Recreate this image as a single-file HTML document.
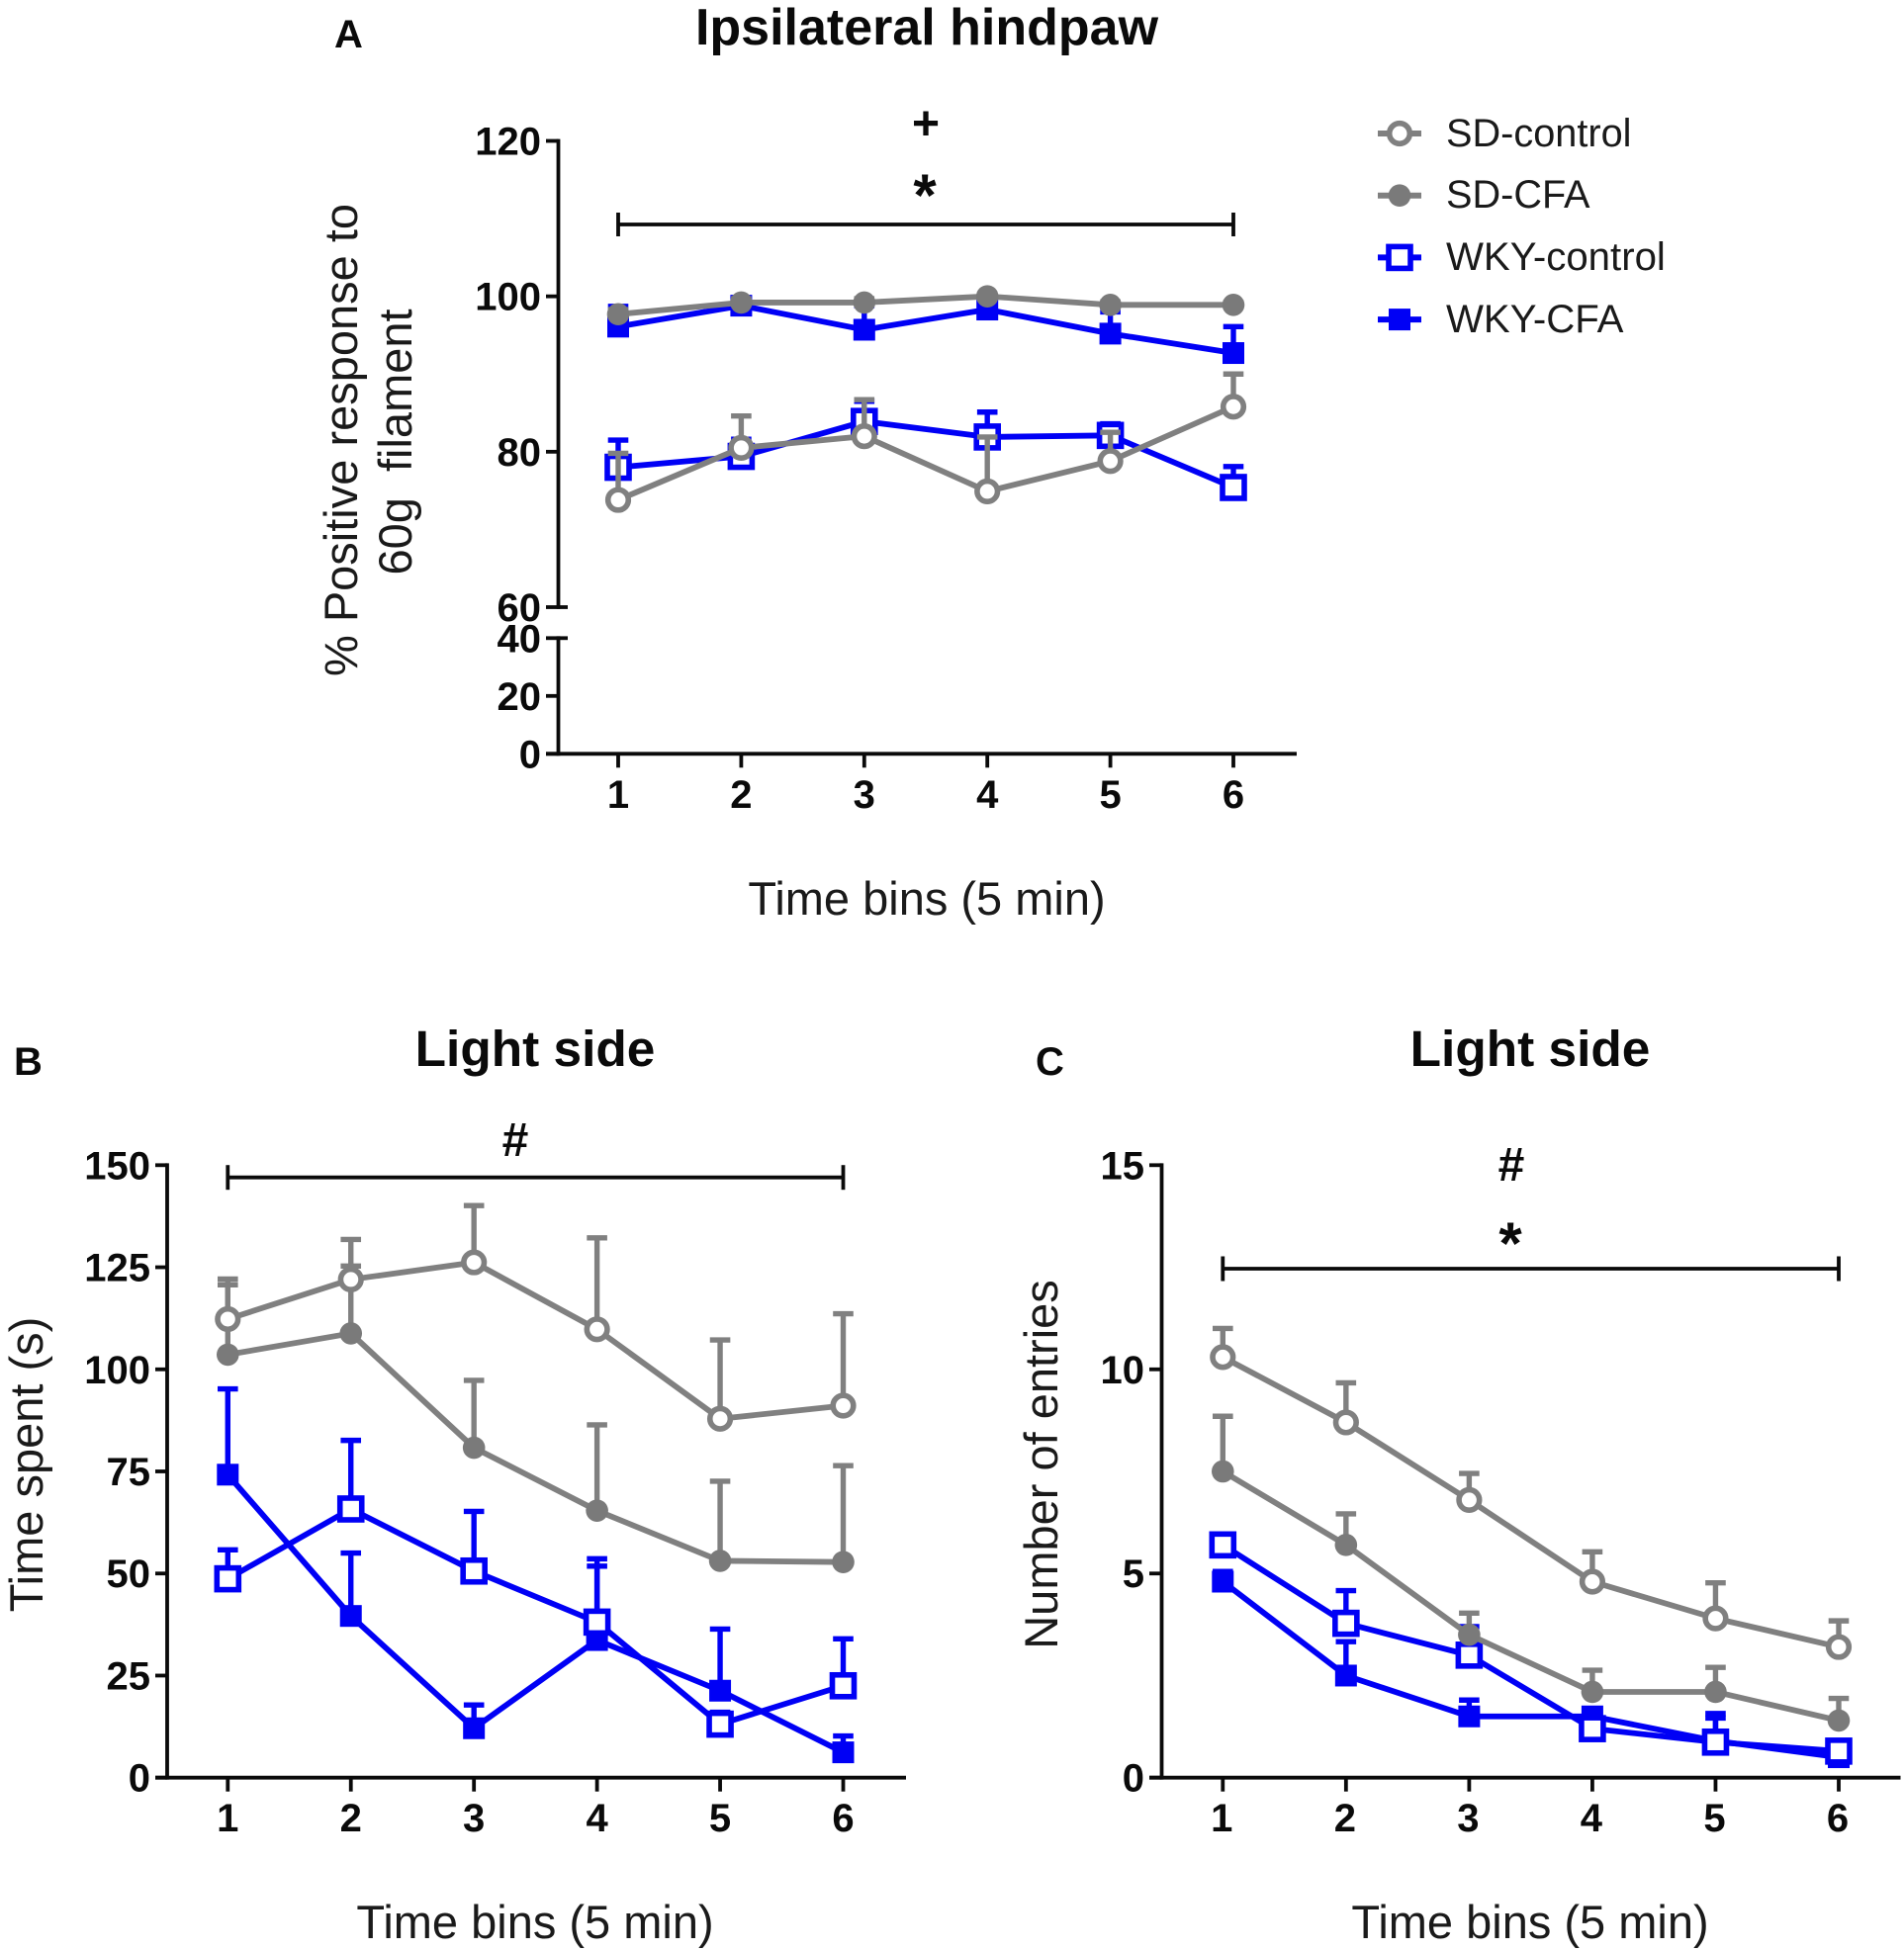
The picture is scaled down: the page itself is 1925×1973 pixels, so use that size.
<!DOCTYPE html>
<html lang="en">
<head>
<meta charset="utf-8">
<title>Ipsilateral hindpaw and light side results</title>
<style>
html,body{margin:0;padding:0;background:#fff;}
svg{display:block;}
text{font-family:"Liberation Sans",Arial,sans-serif;fill:#0a0a0a;}
.title{font-size:52px;font-weight:bold;text-anchor:middle;}
.title2{font-size:51.4px;font-weight:bold;text-anchor:middle;}
.panel{font-size:40px;font-weight:bold;}
.axt{font-size:47px;text-anchor:middle;fill:#1a1a1a;}
.leg{font-size:39.7px;fill:#1a1a1a;}
.legw{font-size:40.2px;fill:#1a1a1a;}
.sym{font-size:48px;font-weight:bold;text-anchor:middle;}
.star{font-size:60px;font-weight:bold;text-anchor:middle;}
</style>
</head>
<body>
<svg id="fig" xmlns="http://www.w3.org/2000/svg" width="1925" height="1973" viewBox="0 0 1925 1973">
  <rect x="0" y="0" width="1925" height="1973" fill="#fff"/>

  <text class="panel" x="338" y="48">A</text>
  <text class="title" x="937" y="45">Ipsilateral hindpaw</text>
  <text class="axt" transform="translate(361,445) rotate(-90)">% Positive response to</text>
  <text class="axt" transform="translate(416,447) rotate(-90)" xml:space="preserve">60g  filament</text>
  <text class="axt" x="937" y="925">Time bins (5 min)</text>
  <text class="sym" x="936" y="141">+</text>
  <text class="star" x="935" y="218">*</text>

  <text class="panel" x="14" y="1087">B</text>
  <text class="title2" x="541" y="1078">Light side</text>
  <text class="axt" transform="translate(43,1481) rotate(-90)">Time spent (s)</text>
  <text class="axt" x="541" y="1960">Time bins (5 min)</text>
  <text class="sym" x="521" y="1169">#</text>

  <text class="panel" x="1047" y="1087">C</text>
  <text class="title2" x="1547" y="1078">Light side</text>
  <text class="axt" transform="translate(1069,1481) rotate(-90)">Number of entries</text>
  <text class="axt" x="1547" y="1960">Time bins (5 min)</text>
  <text class="sym" x="1528" y="1194">#</text>
  <text class="star" x="1527" y="1278">*</text>

  <g>
    <text class="leg" x="1462" y="148">SD-control</text>
    <text class="leg" x="1462" y="210">SD-CFA</text>
    <text class="legw" x="1462" y="273">WKY-control</text>
    <text class="legw" x="1462" y="336">WKY-CFA</text>
  </g>
</svg>
<script>
// Shared categories
const bins = [1, 2, 3, 4, 5, 6];

// Panel A values (percent)
const aTicksUpper = [60, 80, 100, 120];
const aTicksLower = [0, 20, 40];
const aSdControl = [73.8, 80.5, 82.0, 74.9, 78.8, 85.8];
const aSdControlTop = [79.8, 84.6, 86.7, 81.9, 82.5, 90.0];
const aSdCfa = [97.7, 99.2, 99.2, 100, 98.9, 98.9];
const aSdCfaTop = [98.3, 99.7, 99.7, 100.3, 99.3, 99.2];
const aWkyControl = [78.0, 79.4, 83.9, 81.9, 82.1, 75.4];
const aWkyControlTop = [81.5, 81.6, 86.5, 85.1, 83.6, 78.1];
const aWkyCfa = [96.1, 98.8, 95.7, 98.3, 95.2, 92.7];
const aWkyCfaTop = [98.7, 99.8, 98.8, 99.2, 98.0, 96.1];

// Panel B values (seconds)
const bTicks = [0, 25, 50, 75, 100, 125, 150];
const bSdControl = [112.3, 122.0, 126.2, 109.8, 87.9, 91.1];
const bSdControlTop = [120.7, 131.8, 140.1, 132.2, 107.2, 113.6];
const bSdCfa = [103.6, 108.8, 80.8, 65.4, 53.1, 52.8];
const bSdCfaTop = [122.1, 125.3, 97.3, 86.4, 72.6, 76.4];
const bWkyControl = [48.7, 65.8, 50.6, 38.1, 13.1, 22.5];
const bWkyControlTop = [55.8, 82.6, 65.2, 51.8, 16.0, 34.0];
const bWkyCfa = [74.2, 39.6, 12.1, 33.7, 21.3, 6.2];
const bWkyCfaTop = [95.2, 55.0, 17.8, 53.6, 36.4, 10.2];

// Panel C values (count)
const cTicks = [0, 5, 10, 15];
const cSdControl = [10.3, 8.7, 6.8, 4.8, 3.9, 3.2];
const cSdControlTop = [11.0, 9.67, 7.45, 5.53, 4.77, 3.84];
const cSdCfa = [7.5, 5.7, 3.5, 2.1, 2.1, 1.4];
const cSdCfaTop = [8.85, 6.46, 4.03, 2.63, 2.7, 1.94];
const cWkyControl = [5.7, 3.78, 3.0, 1.2, 0.87, 0.65];
const cWkyControlTop = [5.95, 4.58, 3.7, 1.6, 1.46, 0.8];
const cWkyCfa = [4.8, 2.5, 1.5, 1.5, 0.9, 0.5];
const cWkyCfaTop = [5.05, 3.33, 1.9, 1.68, 1.57, 0.8];

const GRAY = '#808080', DARKGRAY = '#7a7a7a', BLUE = '#0000f5', INK = '#0a0a0a';
const NS = 'http://www.w3.org/2000/svg';
const fig = document.getElementById('fig');

function mk(parent, tag, attrs) {
  const e = document.createElementNS(NS, tag);
  for (const k in attrs) e.setAttribute(k, attrs[k]);
  parent.appendChild(e);
  return e;
}
function segment(parent, x1, y1, x2, y2, color, w) {
  const l = mk(parent, 'line', { x1: x1, y1: y1, x2: x2, y2: y2, stroke: color, 'stroke-width': w });
  
  
  return l;
}
function label(parent, x, y, str, anchor) {
  const t = mk(parent, 'text', { x: x, y: y, 'font-size': 40, 'font-weight': 'bold', 'text-anchor': anchor });
  
  
  t.textContent = str;
  return t;
}
function marker(parent, kind, x, y) {
  let m;
  if (kind === 'open-circle') {
    m = mk(parent, 'circle', { cx: x, cy: y, r: 10.3, fill: '#fff', stroke: GRAY, 'stroke-width': 5.6 });
  } else if (kind === 'filled-circle') {
    m = mk(parent, 'circle', { cx: x, cy: y, r: 11.3, fill: DARKGRAY });
  } else if (kind === 'open-square') {
    m = mk(parent, 'rect', { x: x - 11, y: y - 11, width: 22, height: 22, fill: '#fff', stroke: BLUE, 'stroke-width': 5.6 });
  } else {
    m = mk(parent, 'rect', { x: x - 11, y: y - 11, width: 22, height: 22, fill: BLUE });
  }
  
  
  return m;
}
function drawSeries(parent, name, kind, color, values, tops, xf, yf) {
  const g = mk(parent, 'g', {});
  
  
  bins.forEach(function (b, i) {
    const x = xf(b);
    segment(g, x, yf(values[i]), x, yf(tops[i]), color, 5.4);
    segment(g, x - 10.3, yf(tops[i]), x + 10.3, yf(tops[i]), color, 5.4);
  });
  const pts = bins.map(function (b, i) { return xf(b) + ',' + yf(values[i]); }).join(' ');
  const p = mk(g, 'polyline', { points: pts, fill: 'none', stroke: color, 'stroke-width': 5.8, 'stroke-linejoin': 'round' });
  
  
  bins.forEach(function (b, i) { marker(g, kind, xf(b), yf(values[i])); });
}
function drawPanel(id, xf, yf, s) {
  const g = mk(fig, 'g', {});
  
  
  drawSeries(g, id + '-wky-cfa', 'filled-square', BLUE, s[3][0], s[3][1], xf, yf);
  drawSeries(g, id + '-wky-control', 'open-square', BLUE, s[2][0], s[2][1], xf, yf);
  drawSeries(g, id + '-sd-cfa', 'filled-circle', GRAY, s[1][0], s[1][1], xf, yf);
  drawSeries(g, id + '-sd-control', 'open-circle', GRAY, s[0][0], s[0][1], xf, yf);
}
function drawXAxis(id, xf, left, right, y0, labelY, labelShift) {
  const g = mk(fig, 'g', {});
  
  
  segment(g, left, y0, right, y0, INK, 3.8);
  bins.forEach(function (b) {
    segment(g, xf(b), y0, xf(b), y0 + 14, INK, 3.8);
    label(g, xf(b) + labelShift, labelY, String(b), 'middle');
  });
}
function drawBracket(id, x1, x2, y, half) {
  const g = mk(fig, 'g', {});
  
  
  segment(g, x1, y, x2, y, INK, 3.8);
  segment(g, x1, y - half, x1, y + half, INK, 3.8);
  segment(g, x2, y - half, x2, y + half, INK, 3.8);
}
function drawYAxis(id, yf, ticks, axisX, tickLeft, top, bottom) {
  const g = mk(fig, 'g', {});
  
  
  segment(g, axisX, top - 1.9, axisX, bottom + 1.9, INK, 3.8);
  ticks.forEach(function (v) {
    segment(g, tickLeft, yf(v), axisX, yf(v), INK, 3.8);
    label(g, tickLeft - 5, yf(v) + 14, String(v), 'end');
  });
}

// Panel A scales (broken axis)
function xA(b) { return 625 + (b - 1) * (1247 - 625) / 5; }
function yA(v) { return v >= 60 ? 614 - (v - 60) * (614 - 142.5) / 60 : 762.3 - v * (762.3 - 645.3) / 40; }
// Panel B scales
function xB(b) { return 230.3 + (b - 1) * (852.5 - 230.3) / 5; }
function yB(v) { return 1797.7 - v * (1797.7 - 1178.3) / 150; }
// Panel C scales
function xC(b) { return 1236.3 + (b - 1) * (1859 - 1236.3) / 5; }
function yC(v) { return 1797.7 - v * (1797.7 - 1178.3) / 15; }

// Panel A
drawPanel('panel-a', xA, yA, [[aSdControl, aSdControlTop], [aSdCfa, aSdCfaTop], [aWkyControl, aWkyControlTop], [aWkyCfa, aWkyCfaTop]]);
drawYAxis('panel-a-upper', yA, aTicksUpper, 564.5, 552, yA(120), yA(60));
drawYAxis('panel-a-lower', yA, aTicksLower, 564.5, 552, yA(40), yA(0));
segment(fig, 564.5, yA(60), 574, yA(60), INK, 3.8);
segment(fig, 564.5, yA(40), 574, yA(40), INK, 3.8);
drawXAxis('panel-a', xA, 552, 1311, yA(0), 817, 0);
drawBracket('panel-a', xA(1), xA(6), 227, 12);

// Panel B
drawPanel('panel-b', xB, yB, [[bSdControl, bSdControlTop], [bSdCfa, bSdCfaTop], [bWkyControl, bWkyControlTop], [bWkyCfa, bWkyCfaTop]]);
drawYAxis('panel-b', yB, bTicks, 169, 157, yB(150), yB(0));
drawXAxis('panel-b', xB, 157, 916, yB(0), 1852, 0);
drawBracket('panel-b', xB(1), xB(6), 1190.7, 12.5);

// Panel C
drawPanel('panel-c', xC, yC, [[cSdControl, cSdControlTop], [cSdCfa, cSdCfaTop], [cWkyControl, cWkyControlTop], [cWkyCfa, cWkyCfaTop]]);
drawYAxis('panel-c', yC, cTicks, 1174.5, 1162, yC(15), yC(0));
drawXAxis('panel-c', xC, 1162, 1921.5, yC(0), 1852, -1);
drawBracket('panel-c', xC(1), xC(6), 1283, 12.5);

// Legend keys
const legendKinds = ['open-circle', 'filled-circle', 'open-square', 'filled-square'];
const legendColors = [GRAY, GRAY, BLUE, BLUE];
const legendNames = ['sd-control', 'sd-cfa', 'wky-control', 'wky-cfa'];
legendKinds.forEach(function (k, i) {
  const y = 135 + i * 62.7;
  const g = mk(fig, 'g', {});
  
  
  segment(g, 1393, y, 1437, y, legendColors[i], 6);
  marker(g, k, 1415, y);
});
</script>
</body>
</html>
